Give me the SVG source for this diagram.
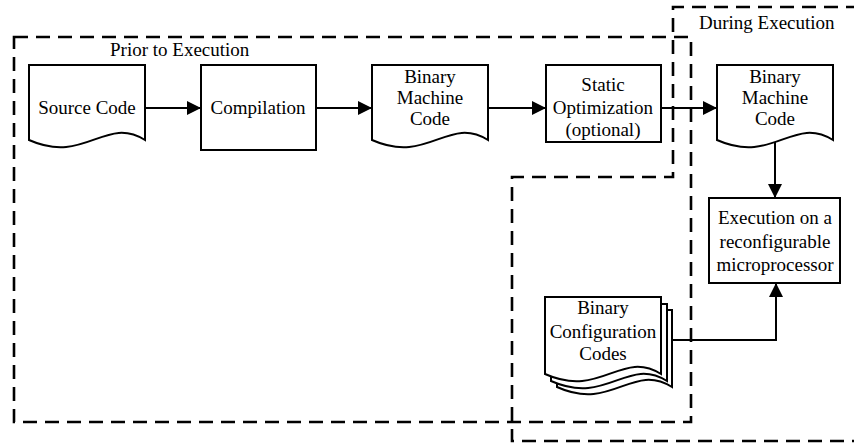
<svg xmlns="http://www.w3.org/2000/svg" width="854" height="448" viewBox="0 0 854 448">
<style>
text{font-family:"Liberation Serif","Times New Roman",serif;font-size:19px;fill:#000;text-anchor:middle}
.lbl{text-anchor:start}
.shape{fill:#fff;stroke:#000;stroke-width:2}
.region{fill:none;stroke:#000;stroke-width:2.6;stroke-dasharray:14 8}
.conn{fill:none;stroke:#000;stroke-width:2}
</style>
<defs>
<marker id="arr" markerUnits="userSpaceOnUse" markerWidth="14" markerHeight="14" refX="14" refY="7" orient="auto">
<path d="M0,0 L14,7 L0,14 z" fill="#000"/>
</marker>
</defs>
<rect width="854" height="448" fill="#fff"/>
<g id="regions">
<path class="region" d="M14,37 H691 V422 H14 Z"/>
<path class="region" d="M860,7 H673 V177 H512 V441 H860"/>
<text class="lbl" x="110" y="56">Prior to Execution</text>
<text class="lbl" x="699" y="29">During Execution</text>
</g>
<g id="connectors">
<path class="conn" d="M145,108 H201" marker-end="url(#arr)"/>
<path class="conn" d="M316,108 H372" marker-end="url(#arr)"/>
<path class="conn" d="M488,108 H546" marker-end="url(#arr)"/>
<path class="conn" d="M661,108 H717" marker-end="url(#arr)"/>
<path class="conn" d="M775,142 V198" marker-end="url(#arr)"/>
<path class="conn" d="M672,340 H776 V283" marker-end="url(#arr)"/>
</g>
<g id="source-code">
<path class="shape" d="M29,65 H145 V140 C105,115 85,165 29,140 Z"/>
<text x="87" y="114">Source Code</text>
</g>
<g id="compilation">
<rect class="shape" x="201" y="65" width="115" height="85"/>
<text x="258" y="114">Compilation</text>
</g>
<g id="binary-machine-code-1">
<path class="shape" d="M372,65 H488 V140 C448,115 428,165 372,140 Z"/>
<text x="430" y="83">Binary</text>
<text x="430" y="104">Machine</text>
<text x="430" y="125">Code</text>
</g>
<g id="static-optimization">
<rect class="shape" x="546" y="65" width="115" height="77"/>
<text x="603" y="91">Static</text>
<text x="603" y="114">Optimization</text>
<text x="603" y="136">(optional)</text>
</g>
<g id="binary-machine-code-2">
<path class="shape" d="M717,65 H833 V140 C793,115 773,165 717,140 Z"/>
<text x="775" y="83">Binary</text>
<text x="775" y="104">Machine</text>
<text x="775" y="125">Code</text>
</g>
<g id="execution">
<rect class="shape" x="709" y="198" width="131" height="85"/>
<text x="775" y="224">Execution on a</text>
<text x="775" y="248">reconfigurable</text>
<text x="775" y="271">microprocessor</text>
</g>
<g id="binary-configuration-codes">
<path class="shape" d="M557,310 H672 V387 C632,362 612,412 557,387 Z"/>
<path class="shape" d="M551,304 H667 V381 C627,356 607,406 551,381 Z"/>
<path class="shape" d="M545,297 H661 V374 C621,349 601,399 545,374 Z"/>
<text x="603" y="314">Binary</text>
<text x="603" y="338">Configuration</text>
<text x="603" y="360">Codes</text>
</g>
</svg>
